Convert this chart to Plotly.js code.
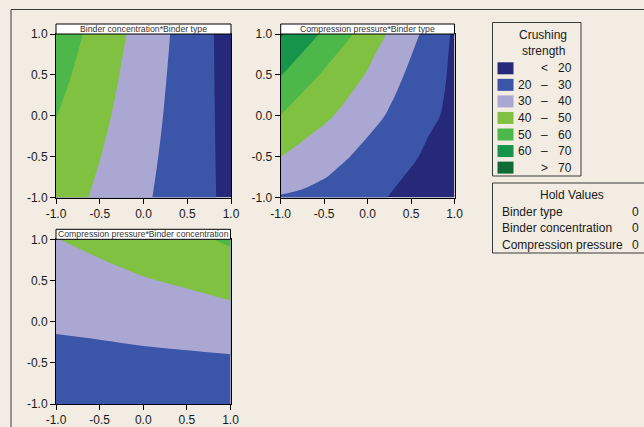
<!DOCTYPE html>
<html>
<head>
<meta charset="utf-8">
<script src="https://cdn.plot.ly/plotly-3.0.1.min.js"></script>
<style>
html,body{margin:0;padding:0;background:#f2ece2;}
#chart{width:644px;height:427px;}
</style>
</head>
<body>
<div id="chart"></div>
<script>
// ---- data ----
const gridVals = [-1, -0.5, 0, 0.5, 1];
const gridFine = [-1, -0.75, -0.5, -0.25, 0, 0.25, 0.5, 0.75, 1];
const tickLabels = ['-1.0', '-0.5', '0.0', '0.5', '1.0'];

// Panel 1: x = Binder type, y = Binder concentration (rows y=-1..1)
const zBinderConcType = [
  [45.1, 38.2, 31.4, 24.5, 17.7],
  [47.6, 40.2, 32.6, 24.9, 17.3],
  [50.2, 42.2, 33.8, 25.3, 16.9],
  [53.2, 44.1, 34.9, 25.7, 16.5],
  [56.1, 46.1, 36.1, 26.1, 16.1]
];
// Panel 2: x = Binder type, y = Compression pressure (fine grid, rows y=-1..1)
const zPressureType = [
  [29.2, 27.8, 25.8, 23.8, 21.8, 19.8, 17.7, 15.6, 13.4],
  [34.7, 33.2, 30.4, 27.5, 24.7, 21.8, 19.0, 16.1, 13.6],
  [40.1, 36.9, 33.7, 30.6, 27.4, 24.2, 21.1, 17.9, 14.8],
  [44.9, 41.0, 37.6, 33.8, 30.1, 26.5, 22.9, 19.3, 15.7],
  [49.8, 45.4, 41.8, 37.6, 33.3, 29.1, 25.2, 21.3, 17.4],
  [55.1, 49.3, 45.1, 40.8, 36.1, 31.2, 26.7, 22.3, 17.9],
  [60.4, 54.4, 48.7, 44.1, 39.3, 33.6, 28.2, 23.2, 18.2],
  [65.6, 59.5, 53.3, 47.4, 42.0, 36.2, 30.2, 24.3, 18.3],
  [70.9, 64.9, 58.5, 52.1, 45.6, 39.1, 32.7, 25.8, 18.6]
];
// Panel 3: x = Binder concentration, y = Compression pressure
const zPressureConc = [
  [22.7, 22.1, 21.8, 21.4, 20.8],
  [27.0, 27.2, 27.6, 28.0, 28.4],
  [31.3, 32.2, 33.5, 34.6, 36.1],
  [35.7, 37.3, 39.4, 41.3, 43.7],
  [39.8, 42.3, 45.3, 47.9, 51.4]
];

const panelTitles = ['Binder concentration*Binder type', 'Compression pressure*Binder type', 'Compression pressure*Binder concentration'];
const levelLow = ['', '20', '30', '40', '50', '60', ''];
const levelSep = ['<', '\u2013', '\u2013', '\u2013', '\u2013', '\u2013', '>'];
const levelHigh = ['20', '30', '40', '50', '60', '70', '70'];
const bandColors = ['#26297a', '#3b55a8', '#aaa7d3', '#80c142', '#4bb849', '#17944b', '#0f6a36'];
const holdNames = ['Binder type', 'Binder concentration', 'Compression pressure'];
const holdValues = ['0', '0', '0'];

// ---- helpers ----
const W = 644, H = 427;
const px = x => x / W;
const py = y => 1 - y / H;
const FONT = 'Liberation Sans, Arial, sans-serif';
const TXT = '#1a1a1a';

// stepwise colorscale: band i evaluated at i/6
const cs = [];
bandColors.forEach((c, i) => {
  const a = Math.max(0, (i - 0.5) / 6), b = Math.min(1, (i + 0.5) / 6);
  cs.push([a, c]); cs.push([b, c]);
});

function contourTrace(g, z, xa, ya) {
  return {
    type: 'contour', x: g, y: g, z: z,
    xaxis: xa, yaxis: ya,
    autocontour: false,
    contours: {start: 20, end: 70, size: 10, coloring: 'fill', showlines: false},
    line: {width: 0, smoothing: 1},
    colorscale: cs, showscale: false, hoverinfo: 'skip'
  };
}

const data = [
  contourTrace(gridVals, zBinderConcType, 'x', 'y'),
  contourTrace(gridFine, zPressureType, 'x2', 'y2'),
  contourTrace(gridVals, zPressureConc, 'x3', 'y3')
];

function axis(domain, anchor) {
  return {
    domain: domain, anchor: anchor, range: [-1, 1],
    tickvals: gridVals, ticktext: tickLabels,
    ticks: 'outside', ticklen: 5, tickwidth: 1, tickcolor: '#000',
    showline: true, linecolor: '#000', linewidth: 1, mirror: true,
    showgrid: false, zeroline: false, fixedrange: true,
    tickfont: {family: FONT, size: 12, color: TXT}
  };
}

// panel boxes in pixels: [left, right, top, bottom]
const panels = [
  [56, 231, 34, 197.5],
  [280.7, 454.5, 34, 197.5],
  [56, 230.5, 239.3, 404]
];

const layout = {
  width: W, height: H,
  margin: {l: 0, r: 0, t: 0, b: 0},
  paper_bgcolor: '#f2ece2', plot_bgcolor: '#f2ece2',
  showlegend: false,
  xaxis: axis([px(panels[0][0]), px(panels[0][1])], 'y'),
  yaxis: axis([py(panels[0][3]), py(panels[0][2])], 'x'),
  xaxis2: axis([px(panels[1][0]), px(panels[1][1])], 'y2'),
  yaxis2: axis([py(panels[1][3]), py(panels[1][2])], 'x2'),
  xaxis3: axis([px(panels[2][0]), px(panels[2][1])], 'y3'),
  yaxis3: axis([py(panels[2][3]), py(panels[2][2])], 'x3'),
  shapes: [], annotations: []
};

// outer frame
layout.shapes.push({type: 'line', xref: 'paper', yref: 'paper', x0: px(11), x1: px(11), y0: py(9.5), y1: py(440), line: {color: '#3a3a3a', width: 1}});
layout.shapes.push({type: 'line', xref: 'paper', yref: 'paper', x0: px(11), x1: px(660), y0: py(9.5), y1: py(9.5), line: {color: '#3a3a3a', width: 1}});

// panel header strips
panels.forEach((p, i) => {
  layout.shapes.push({type: 'rect', xref: 'paper', yref: 'paper', x0: px(p[0]), x1: px(p[1]), y0: py(p[2]), y1: py(p[2] - 10), fillcolor: '#ffffff', line: {color: '#000', width: 1}});
  layout.annotations.push({xref: 'paper', yref: 'paper', x: px((p[0] + p[1]) / 2), y: py(p[2] - 5), xanchor: 'center', yanchor: 'middle', showarrow: false, text: panelTitles[i], font: {family: FONT, size: 8.7, color: '#333'}});
});

// legend box
layout.shapes.push({type: 'rect', xref: 'paper', yref: 'paper', x0: px(492.5), x1: px(581), y0: py(176), y1: py(22.5), line: {color: '#3a3a3a', width: 1}, fillcolor: 'rgba(0,0,0,0)'});
layout.annotations.push({xref: 'paper', yref: 'paper', x: px(543), y: py(35.5), xanchor: 'center', yanchor: 'middle', showarrow: false, text: 'Crushing', font: {family: FONT, size: 12, color: TXT}});
layout.annotations.push({xref: 'paper', yref: 'paper', x: px(543), y: py(51), xanchor: 'center', yanchor: 'middle', showarrow: false, text: 'strength', font: {family: FONT, size: 12, color: TXT}});
bandColors.forEach((c, i) => {
  const yc = 68.3 + i * 16.55;
  layout.shapes.push({type: 'rect', xref: 'paper', yref: 'paper', x0: px(497.5), x1: px(513.5), y0: py(yc + 6), y1: py(yc - 6), fillcolor: c, line: {width: 0}});
  if (levelLow[i]) layout.annotations.push({xref: 'paper', yref: 'paper', x: px(534), y: py(yc), xanchor: 'right', yanchor: 'middle', showarrow: false, text: levelLow[i], font: {family: FONT, size: 12, color: TXT}});
  layout.annotations.push({xref: 'paper', yref: 'paper', x: px(544.5), y: py(yc), xanchor: 'center', yanchor: 'middle', showarrow: false, text: levelSep[i], font: {family: FONT, size: 12, color: TXT}});
  layout.annotations.push({xref: 'paper', yref: 'paper', x: px(574), y: py(yc), xanchor: 'right', yanchor: 'middle', showarrow: false, text: levelHigh[i], font: {family: FONT, size: 12, color: TXT}});
});

// hold values box
layout.shapes.push({type: 'rect', xref: 'paper', yref: 'paper', x0: px(492.5), x1: px(700), y0: py(253), y1: py(183), line: {color: '#3a3a3a', width: 1}, fillcolor: 'rgba(0,0,0,0)'});
layout.annotations.push({xref: 'paper', yref: 'paper', x: px(572), y: py(195), xanchor: 'center', yanchor: 'middle', showarrow: false, text: 'Hold Values', font: {family: FONT, size: 12, color: TXT}});
holdNames.forEach((n, i) => {
  const yc = 211.7 + i * 16.7;
  layout.annotations.push({xref: 'paper', yref: 'paper', x: px(500), y: py(yc), xanchor: 'left', yanchor: 'middle', showarrow: false, text: n, font: {family: FONT, size: 12, color: TXT}});
  layout.annotations.push({xref: 'paper', yref: 'paper', x: px(641), y: py(yc), xanchor: 'right', yanchor: 'middle', showarrow: false, text: holdValues[i], font: {family: FONT, size: 12, color: TXT}});
});

Plotly.newPlot('chart', data, layout, {staticPlot: true, displayModeBar: false});
</script>
</body>
</html>
